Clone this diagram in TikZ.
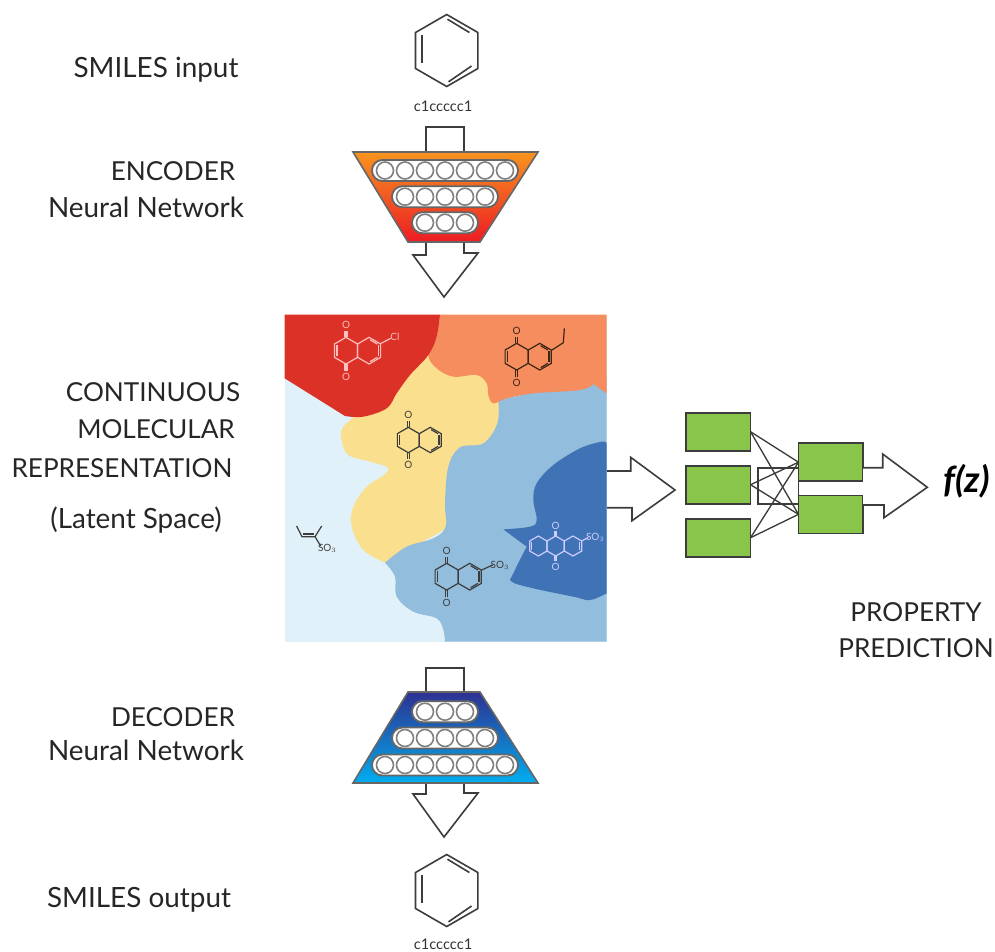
\documentclass[tikz,border=0pt]{standalone}
\usepackage{fontspec}
\setmainfont{Lato}
\usetikzlibrary{positioning}
\definecolor{paleblue}{HTML}{E0F1FA}
\definecolor{midblue}{HTML}{92BDDC}
\definecolor{deepblue}{HTML}{4073B5}
\definecolor{sandyellow}{HTML}{FADF8E}
\definecolor{peach}{HTML}{F68D5E}
\definecolor{brickred}{HTML}{DC3126}
\definecolor{leafgreen}{HTML}{88C54A}
\definecolor{inkgray}{HTML}{3C3C3C}
\definecolor{enctop}{HTML}{F7941E}
\definecolor{encbot}{HTML}{ED1C24}
\definecolor{dectop}{HTML}{2E3192}
\definecolor{decbot}{HTML}{00AEEF}
\newcommand{\hexat}[1]{\draw (#1,-1) -- ++(.866,.5) -- ++(0,1) -- ++(-.866,.5) -- ++(-.866,-.5) -- ++(0,-1) -- cycle;}
% row of white cells inside a pill: centre y, number of cells
\newcommand{\pillrow}[2]{
  \draw[pill] ({445-#2*10-3},#1-10.5) rectangle ({445+#2*10+3},#1+10.5);
  \foreach \i in {1,...,#2}
    \draw[cell] ({445+(\i-(#2+1)/2)*20},#1) circle[radius=8.5];
}
\tikzset{
  benzene/.pic={
    \hexat{0}
    \draw (.02,-.87) -- (.63,-.5);
    \draw (-.69,-.43) -- (-.69,.36);
    \draw (.05,.87) -- (.69,.43);
  },
  naphtho/.pic={
    \hexat{0}
    \hexat{1.732}
    \draw (-.68,-.4) -- (-.68,.4);
    \draw (2.42,-.4) -- (2.42,.4);
    \draw (1.8,.82) -- (2.35,.5);
    \draw (1.8,-.82) -- (2.35,-.5);
    \draw (-.07,-1) -- (-.07,-1.5) (.07,-1) -- (.07,-1.5);
    \draw (-.07,1) -- (-.07,1.5) (.07,1) -- (.07,1.5);
    \node[atom] (otop) at (0,-1.95) {O};
    \node[atom] (obot) at (0,1.95) {O};
  },
  anthra/.pic={
    \hexat{-1.732}
    \hexat{0}
    \hexat{1.732}
    \draw (-2.42,-.4) -- (-2.42,.4);
    \draw (2.42,-.4) -- (2.42,.4);
    \draw (-.07,-1) -- (-.07,-1.5) (.07,-1) -- (.07,-1.5);
    \draw (-.07,1) -- (-.07,1.5) (.07,1) -- (.07,1.5);
    \node[atom] (otop) at (0,-2.05) {O};
    \node[atom] (obot) at (0,2.05) {O};
  },
}
\begin{document}
\begin{tikzpicture}[
  x=0.75pt, y=-0.75pt,
  node distance=11.25pt,
  label/.style={font=\fontsize{19.6}{22}\selectfont, text=black!85, inner sep=0pt},
  wordlabel/.style={font=\fontsize{20.9}{22}\selectfont, text=black!85, inner sep=0pt},
  smiles/.style={font=\fontsize{11}{12}\selectfont, text=black!80, inner sep=0pt},
  atom/.style={font=\fontsize{7.5}{8}\selectfont, inner sep=0pt},
  ring/.style={draw=inkgray, line width=1.2pt},
  outline/.style={draw=inkgray, line width=1.2pt, line join=miter},
  bigarrow/.style={outline, fill=white},
  pill/.style={draw=black!60, line width=1.4pt, fill=white, rounded corners=7.8pt},
  cell/.style={draw=black!50, line width=1.2pt, fill=white},
  propbox/.style={rectangle, draw=inkgray, line width=1.2pt, fill=leafgreen,
    minimum width=48.5pt, minimum height=28.5pt, inner sep=0pt, outer sep=0pt},
  wire/.style={draw=inkgray, line width=1pt},
]
\useasboundingbox (0,0) rectangle (995,951);

% ---- Left labels ----
\node[wordlabel] (inlabel) at (156,70) {SMILES input};
\node[label] (enclabel) at (173,171) {ENCODER};
\node[wordlabel] (encnet) at (146,207) {Neural Network};
\node[label] (contlabel) at (153,392) {CONTINUOUS};
\node[label] (mollabel) at (156,429) {MOLECULAR};
\node[label] (replabel) at (122,468) {REPRESENTATION};
\node[wordlabel] (latlabel) at (136,520) {(Latent Space)};
\node[label] (declabel) at (173,717) {DECODER};
\node[wordlabel] (decnet) at (146,750) {Neural Network};
\node[wordlabel] (outlabel) at (139,900) {SMILES output};

% ---- Input molecule ----
\pic[ring, scale=36] (molin) at (446.7,50.5) {benzene};
\node[smiles] (smilesin) at (443,106.5) {c1ccccc1};

% ---- Encoder ----
\draw[outline] (426,152) -- (426,127) -- (464,127) -- (464,152);
\draw[bigarrow] (426,242) -- (426,255) -- (413,255) -- (444,297) -- (478,253) -- (464,253) -- (464,242);
\draw[outline, draw=black!60, top color=enctop, bottom color=encbot]
  (353,152) -- (538,152) -- (480,242) -- (408,242) -- cycle;
\pillrow{170.5}{7}
\pillrow{196.7}{5}
\pillrow{222.7}{3}

% ---- Latent space regions ----
\begin{scope}[shift={(280,310)}, x=0.25pt, y=-0.25pt]
  \fill[paleblue] (14,14) rectangle (980,995);
  \fill[sandyellow] plot[smooth, tension=.6] coordinates {(250,300) (190,350) (185,390) (205,435)
      (270,455) (322,472) (312,495) (260,530) (220,590) (215,650) (250,720) (315,758)}
    -- (600,600) -- (700,300) -- (700,100) -- (300,100) -- cycle;
  \fill[midblue] plot[smooth, tension=.6] coordinates {(655,270) (652,340) (610,400) (540,412)
      (505,470) (495,580) (497,650) (460,685) (380,710) (315,758)}
    -- plot[smooth, tension=.6] coordinates {(315,758) (345,800) (350,860) (400,905) (470,925) (490,960) (495,995)}
    -- (980,995) -- (980,200) -- cycle;
  \fill[peach] (480,14) -- (980,14) -- (980,250) -- (940,222)
    -- plot[smooth, tension=.6] coordinates {(940,222) (900,240) (760,250) (680,265) (640,280)
      (625,255) (620,220) (590,195) (520,200) (470,175) (445,135) (470,80) (480,14)} -- cycle;
  \fill[brickred] (14,14) -- (480,14)
    -- plot[smooth, tension=.6] coordinates {(480,14) (470,80) (445,135) (390,195) (350,250) (320,295) (250,320) (195,318)}
    -- (14,205) -- cycle;
  \fill[deepblue] (980,850)
    -- plot[smooth, tension=.6] coordinates {(980,850) (930,870) (880,860) (760,835) (695,815) (700,790) (740,710)}
    -- (670,658)
    -- plot[smooth, tension=.6] coordinates {(670,658) (750,650) (770,630) (760,570) (770,520) (820,465) (900,415) (965,395) (980,400)}
    -- cycle;

  % ---- Molecules on the regions ----
  \pic[draw=red!25!white, text=red!25!white, line width=.9pt, scale=40] (molred) at (198,122) {naphtho};
  \node[atom, text=red!25!white] (clred) at (345,82) {Cl};
  \draw[draw=red!25!white, line width=.9pt] (303,100) -- (332,85);

  \pic[draw=black!70!brown, text=black!70!brown, line width=.9pt, scale=40] (molorange) at (710,140) {naphtho};
  \draw[draw=black!70!brown, line width=.9pt] (816,120) -- (850,98) -- (853,55);

  \pic[draw=inkgray, text=inkgray, line width=.9pt, scale=38] (molyellow) at (385,390) {naphtho};

  \pic[draw=inkgray, text=inkgray, line width=.9pt, scale=40] (molmid) at (500,800) {naphtho};
  \draw[draw=inkgray, line width=.9pt] (605,780) -- (638,765);
  \node[atom, text=inkgray] (so3mid) at (660,767) {SO$_3$};

  \pic[draw=blue!20!white, text=blue!20!white, line width=.9pt, scale=30] (moldeep) at (827,708) {anthra};
  \draw[draw=blue!20!white, line width=.9pt] (907,692) -- (925,682);
  \node[atom, text=blue!20!white] (so3deep) at (946,682) {SO$_3$};

  \draw[draw=inkgray, line width=.9pt] (50,648) -- (66,680) -- (105,680) -- (125,648) (105,680) -- (122,708);
  \draw[draw=inkgray, line width=.9pt] (68,672) -- (103,672);
  \node[atom, text=inkgray] (so3pale) at (142,716) {SO$_3$};
\end{scope}

% ---- Property prediction ----
\draw[wire] (758,468) rectangle (798.5,504);
\draw[bigarrow] (607,471) -- (630.7,471) -- (630.7,457.3) -- (675,490) -- (632,520.7) -- (632,507.7) -- (607,507.7);
\node[propbox] (prop1) at (718.2,431.7) {};
\node[propbox, below=of prop1] (prop2) {};
\node[propbox, below=of prop2] (prop3) {};
\node[propbox] (out1) at (830.8,462.2) {};
\node[propbox, below=10.6pt of out1] (out2) {};
\foreach \a in {prop1,prop2,prop3}
  \foreach \b in {out1,out2}
    \draw[wire] (\a.east) -- (\b.west);
\draw[bigarrow] (out1.east |- 863,467.7) -- (882.7,467.7) -- (882.7,454) -- (927.3,487.3) -- (884,517.7) -- (884,505) -- (out2.east |- 863,505);
\node[font=\fontsize{27}{28}\selectfont\bfseries\itshape, inner sep=0pt] (fz) at (966.5,481.5) {f(z)};
\node[label] (proplabel) at (916,612) {PROPERTY};
\node[label] (predlabel) at (916,648) {PREDICTION};

% ---- Decoder ----
\draw[outline] (426,692) -- (426,668) -- (464,668) -- (464,692);
\draw[bigarrow] (426,783) -- (426,794) -- (413,794) -- (444,837) -- (478,793) -- (464,793) -- (464,783);
\draw[outline, draw=black!60, top color=dectop, bottom color=decbot]
  (408,692) -- (480,692) -- (538,783) -- (353,783) -- cycle;
\pillrow{711.7}{3}
\pillrow{738}{5}
\pillrow{765}{7}

% ---- Output molecule ----
\pic[ring, scale=36] (molout) at (446.7,890.5) {benzene};
\node[smiles] (smilesout) at (443,944) {c1ccccc1};

\end{tikzpicture}
\end{document}
